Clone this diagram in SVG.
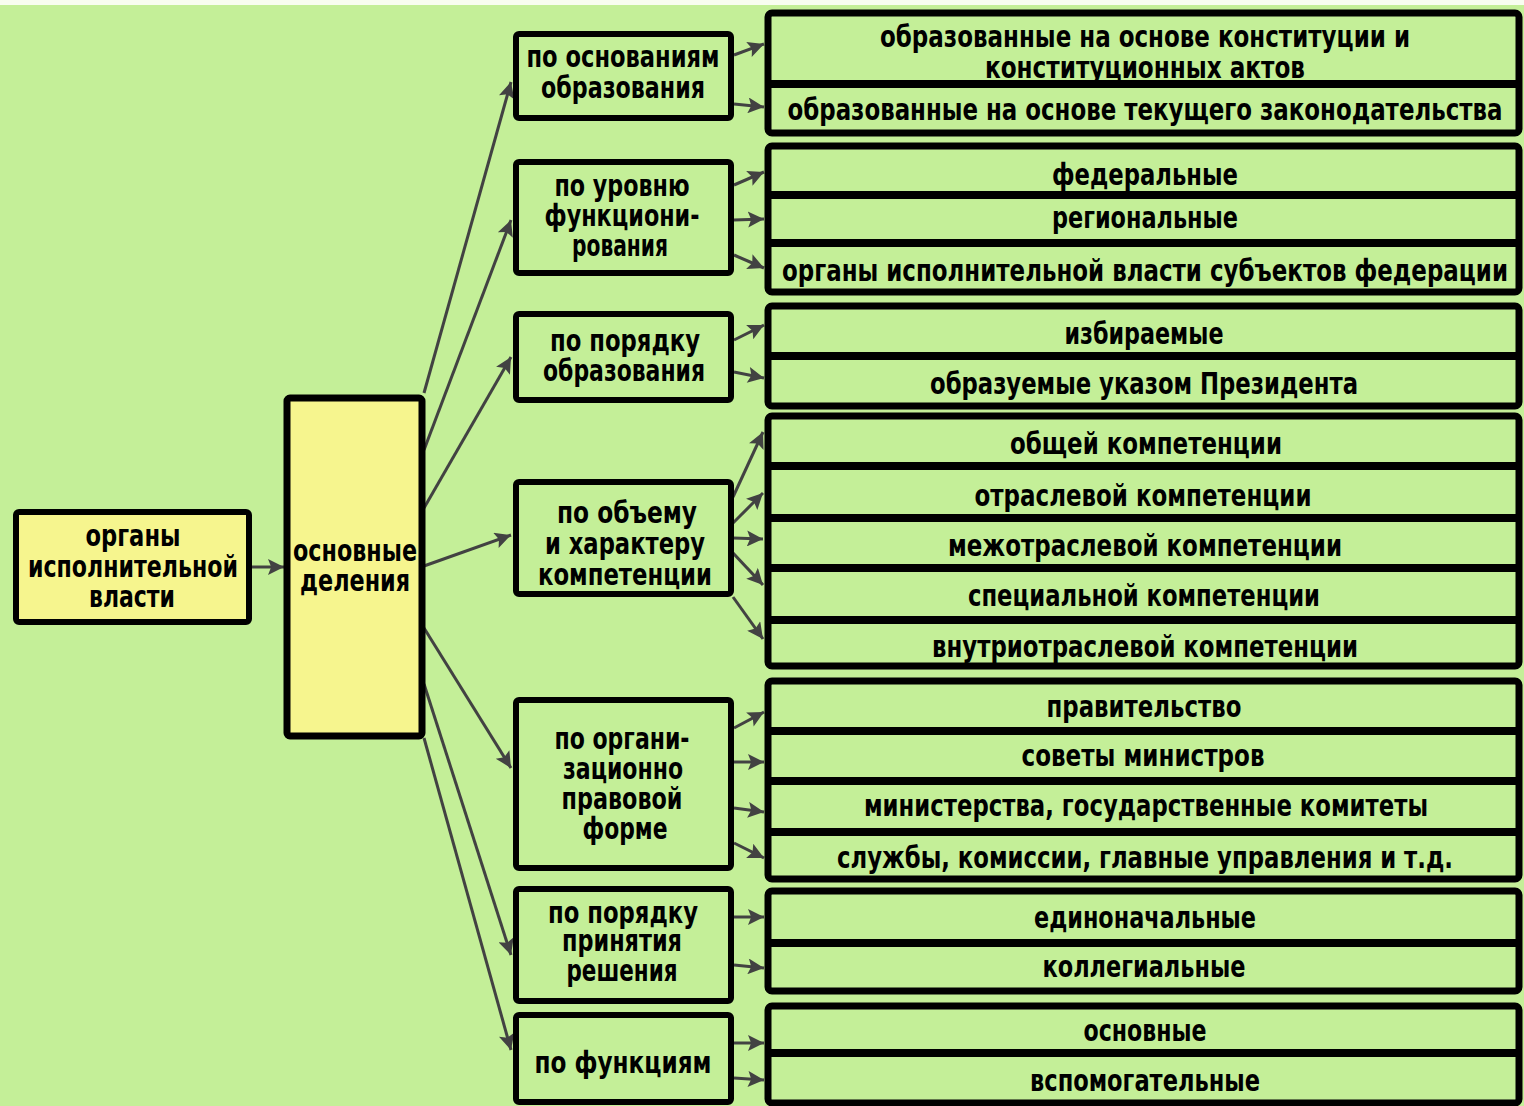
<svg xmlns="http://www.w3.org/2000/svg" width="1524" height="1106" viewBox="0 0 1524 1106">
<defs>
<marker id="ah" viewBox="0 0 10 10" refX="10" refY="5" markerUnits="userSpaceOnUse" markerWidth="22" markerHeight="16" orient="auto">
<path d="M0,0 L10,5 L0,10 L2,5 z" fill="#424242"/>
</marker>
<style>
.yb{fill:#f6f58e;stroke:#000;stroke-width:6}
.gb{fill:#c4ef98;stroke:#000;stroke-width:6}
.grp{fill:#c4ef98;stroke:#000;stroke-width:7}
.div{stroke:#000;stroke-width:8}
.t{font-family:"Liberation Sans Narrow","DejaVu Sans Condensed","Liberation Sans",sans-serif;font-size:31px;font-weight:bold;fill:#000;text-anchor:middle}
.c{stroke:#424242;stroke-width:3;fill:none;marker-end:url(#ah)}
</style>
</defs>
<rect x="0" y="0" width="1524" height="1106" fill="#c4ef98"/>
<rect x="0" y="0" width="1524" height="5" fill="#f8fdf0"/>

<g id="connectors">
<line class="c" x1="252" y1="567" x2="284" y2="567"/>
<line class="c" x1="424" y1="393" x2="511" y2="82"/>
<line class="c" x1="424" y1="450" x2="511" y2="220"/>
<line class="c" x1="424" y1="508" x2="511" y2="357"/>
<line class="c" x1="424" y1="566" x2="511" y2="535"/>
<line class="c" x1="424" y1="628" x2="511" y2="768"/>
<line class="c" x1="424" y1="684" x2="511" y2="955"/>
<line class="c" x1="424" y1="738" x2="511" y2="1050"/>

<line class="c" x1="734" y1="55" x2="764" y2="44"/>
<line class="c" x1="734" y1="104" x2="764" y2="107"/>
<line class="c" x1="734" y1="185" x2="764" y2="172"/>
<line class="c" x1="734" y1="220" x2="764" y2="219"/>
<line class="c" x1="734" y1="255" x2="764" y2="268"/>
<line class="c" x1="734" y1="340" x2="764" y2="325"/>
<line class="c" x1="734" y1="372" x2="764" y2="378"/>
<line class="c" x1="733" y1="497" x2="763" y2="432"/>
<line class="c" x1="733" y1="523" x2="763" y2="493"/>
<line class="c" x1="733" y1="538" x2="763" y2="539"/>
<line class="c" x1="733" y1="553" x2="763" y2="585"/>
<line class="c" x1="733" y1="597" x2="763" y2="639"/>
<line class="c" x1="734" y1="728" x2="764" y2="712"/>
<line class="c" x1="734" y1="762" x2="764" y2="762"/>
<line class="c" x1="734" y1="808" x2="764" y2="812"/>
<line class="c" x1="734" y1="843" x2="764" y2="858"/>
<line class="c" x1="734" y1="917" x2="764" y2="917"/>
<line class="c" x1="734" y1="965" x2="764" y2="968"/>
<line class="c" x1="734" y1="1043" x2="764" y2="1043"/>
<line class="c" x1="734" y1="1078" x2="764" y2="1080"/>
</g>

<g id="root">
<rect class="yb" x="16" y="512" width="233" height="110" rx="3"/>
<text class="t" x="133" y="546" textLength="95" lengthAdjust="spacingAndGlyphs">органы</text>
<text class="t" x="133" y="577" textLength="210" lengthAdjust="spacingAndGlyphs">исполнительной</text>
<text class="t" x="132" y="607" textLength="86" lengthAdjust="spacingAndGlyphs">власти</text>
</g>

<g id="main">
<rect class="yb" x="287" y="398" width="135" height="338" rx="3" style="stroke-width:7"/>
<text class="t" x="355" y="561" textLength="124" lengthAdjust="spacingAndGlyphs">основные</text>
<text class="t" x="355" y="591" textLength="110" lengthAdjust="spacingAndGlyphs">деления</text>
</g>

<g id="m1">
<rect class="gb" x="516" y="34" width="215" height="84" rx="3"/>
<text class="t" x="623" y="67" textLength="193" lengthAdjust="spacingAndGlyphs">по основаниям</text>
<text class="t" x="623" y="98" textLength="164" lengthAdjust="spacingAndGlyphs">образования</text>
</g>
<g id="m2">
<rect class="gb" x="516" y="162" width="215" height="111" rx="3"/>
<text class="t" x="622" y="196" textLength="135" lengthAdjust="spacingAndGlyphs">по уровню</text>
<text class="t" x="622" y="226" textLength="155" lengthAdjust="spacingAndGlyphs">функциони-</text>
<text class="t" x="620" y="256" textLength="96" lengthAdjust="spacingAndGlyphs">рования</text>
</g>
<g id="m3">
<rect class="gb" x="516" y="314" width="215" height="86" rx="3"/>
<text class="t" x="625" y="351" textLength="150" lengthAdjust="spacingAndGlyphs">по порядку</text>
<text class="t" x="624" y="381" textLength="162" lengthAdjust="spacingAndGlyphs">образования</text>
</g>
<g id="m4">
<rect class="gb" x="516" y="482" width="215" height="112" rx="3"/>
<text class="t" x="627" y="523" textLength="140" lengthAdjust="spacingAndGlyphs">по объему</text>
<text class="t" x="625" y="554" textLength="160" lengthAdjust="spacingAndGlyphs">и характеру</text>
<text class="t" x="625" y="585" textLength="174" lengthAdjust="spacingAndGlyphs">компетенции</text>
</g>
<g id="m5">
<rect class="gb" x="516" y="700" width="215" height="168" rx="3"/>
<text class="t" x="622" y="749" textLength="135" lengthAdjust="spacingAndGlyphs">по органи-</text>
<text class="t" x="623" y="779" textLength="120" lengthAdjust="spacingAndGlyphs">зационно</text>
<text class="t" x="622" y="809" textLength="121" lengthAdjust="spacingAndGlyphs">правовой</text>
<text class="t" x="625" y="839" textLength="85" lengthAdjust="spacingAndGlyphs">форме</text>
</g>
<g id="m6">
<rect class="gb" x="516" y="889" width="215" height="112" rx="3"/>
<text class="t" x="623" y="923" textLength="150" lengthAdjust="spacingAndGlyphs">по порядку</text>
<text class="t" x="622" y="951" textLength="120" lengthAdjust="spacingAndGlyphs">принятия</text>
<text class="t" x="622" y="981" textLength="111" lengthAdjust="spacingAndGlyphs">решения</text>
</g>
<g id="m7">
<rect class="gb" x="516" y="1015" width="215" height="87" rx="3"/>
<text class="t" x="623" y="1073" textLength="177" lengthAdjust="spacingAndGlyphs">по функциям</text>
</g>

<g id="gA">
<rect class="grp" x="768" y="13" width="751" height="120" rx="4"/>
<line class="div" x1="768" y1="84" x2="1519" y2="84"/>
<text class="t" x="1145" y="47" textLength="530" lengthAdjust="spacingAndGlyphs">образованные на основе конституции и</text>
<text class="t" x="1145" y="78" textLength="320" lengthAdjust="spacingAndGlyphs">конституционных актов</text>
<text class="t" x="1145" y="120" textLength="715" lengthAdjust="spacingAndGlyphs">образованные на основе текущего законодательства</text>
</g>
<g id="gB">
<rect class="grp" x="768" y="146" width="751" height="146" rx="4"/>
<line class="div" x1="768" y1="195" x2="1519" y2="195"/>
<line class="div" x1="768" y1="243" x2="1519" y2="243"/>
<text class="t" x="1145" y="185" textLength="186" lengthAdjust="spacingAndGlyphs">федеральные</text>
<text class="t" x="1145" y="228" textLength="186" lengthAdjust="spacingAndGlyphs">региональные</text>
<text class="t" x="1145" y="281" textLength="726" lengthAdjust="spacingAndGlyphs">органы исполнительной власти субъектов федерации</text>
</g>
<g id="gC">
<rect class="grp" x="768" y="306" width="751" height="100" rx="4"/>
<line class="div" x1="768" y1="356" x2="1519" y2="356"/>
<text class="t" x="1144" y="344" textLength="159" lengthAdjust="spacingAndGlyphs">избираемые</text>
<text class="t" x="1144" y="394" textLength="428" lengthAdjust="spacingAndGlyphs">образуемые указом Президента</text>
</g>
<g id="gD">
<rect class="grp" x="768" y="416" width="751" height="250" rx="4"/>
<line class="div" x1="768" y1="466" x2="1519" y2="466"/>
<line class="div" x1="768" y1="518" x2="1519" y2="518"/>
<line class="div" x1="768" y1="568" x2="1519" y2="568"/>
<line class="div" x1="768" y1="620" x2="1519" y2="620"/>
<text class="t" x="1146" y="454" textLength="272" lengthAdjust="spacingAndGlyphs">общей компетенции</text>
<text class="t" x="1143" y="506" textLength="337" lengthAdjust="spacingAndGlyphs">отраслевой компетенции</text>
<text class="t" x="1145" y="556" textLength="394" lengthAdjust="spacingAndGlyphs">межотраслевой компетенции</text>
<text class="t" x="1144" y="606" textLength="352" lengthAdjust="spacingAndGlyphs">специальной компетенции</text>
<text class="t" x="1145" y="657" textLength="426" lengthAdjust="spacingAndGlyphs">внутриотраслевой компетенции</text>
</g>
<g id="gE">
<rect class="grp" x="768" y="681" width="751" height="198" rx="4"/>
<line class="div" x1="768" y1="731" x2="1519" y2="731"/>
<line class="div" x1="768" y1="781" x2="1519" y2="781"/>
<line class="div" x1="768" y1="832" x2="1519" y2="832"/>
<text class="t" x="1144" y="717" textLength="195" lengthAdjust="spacingAndGlyphs">правительство</text>
<text class="t" x="1143" y="766" textLength="243" lengthAdjust="spacingAndGlyphs">советы министров</text>
<text class="t" x="1146" y="816" textLength="564" lengthAdjust="spacingAndGlyphs">министерства, государственные комитеты</text>
<text class="t" x="1145" y="868" textLength="616" lengthAdjust="spacingAndGlyphs">службы, комиссии, главные управления и т.д.</text>
</g>
<g id="gF">
<rect class="grp" x="768" y="891" width="751" height="100" rx="4"/>
<line class="div" x1="768" y1="943" x2="1519" y2="943"/>
<text class="t" x="1145" y="928" textLength="222" lengthAdjust="spacingAndGlyphs">единоначальные</text>
<text class="t" x="1144" y="977" textLength="203" lengthAdjust="spacingAndGlyphs">коллегиальные</text>
</g>
<g id="gG">
<rect class="grp" x="768" y="1006" width="751" height="97" rx="4"/>
<line class="div" x1="768" y1="1053" x2="1519" y2="1053"/>
<text class="t" x="1145" y="1041" textLength="123" lengthAdjust="spacingAndGlyphs">основные</text>
<text class="t" x="1145" y="1091" textLength="230" lengthAdjust="spacingAndGlyphs">вспомогательные</text>
</g>
</svg>
